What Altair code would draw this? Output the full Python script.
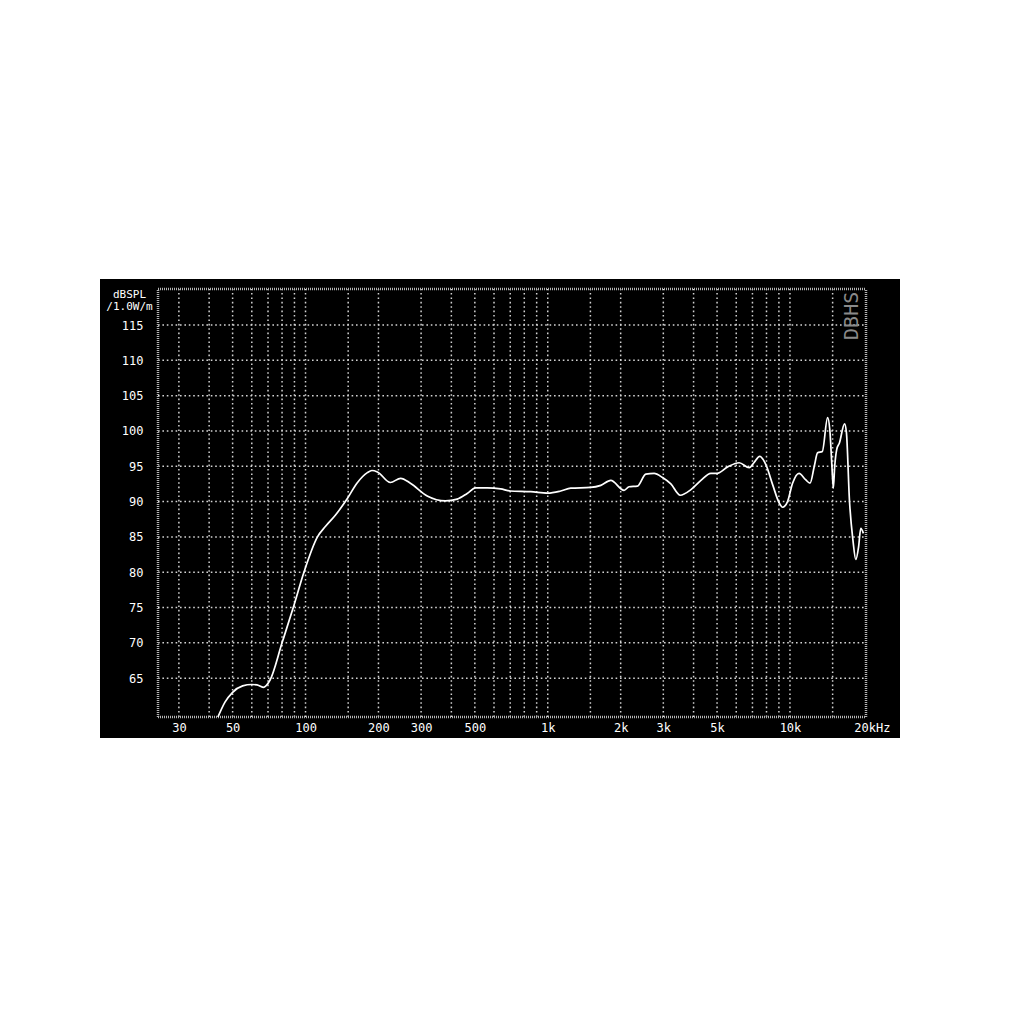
import altair as alt
import pandas as pd

# ---- data ----
freq = [43.5, 46.5, 50, 55, 60, 63, 66.9, 71.3, 80, 89, 98.5, 112, 121, 133, 148.6, 163, 180, 188,
        198, 224, 247, 271, 318, 378, 423, 465, 504, 563, 639, 700, 851, 1000, 1131, 1245, 1500,
        1656, 1820, 2065, 2167, 2346, 2540, 2749, 2978, 3223, 3523, 3900, 4289, 4716, 5000, 5525,
        6170, 6786, 7100, 7500, 7960, 8480, 9030, 9320, 9770, 10250, 10900, 11600, 12100, 12600,
        13000, 13600, 14300, 14600, 14900, 15100, 15300, 15600, 16000, 16800, 17100, 17600, 18200,
        18700, 19200, 19600, 20100]
spl = [59.5, 61.6, 63.0, 63.9, 64.1, 64.05, 63.7, 64.7, 70.0, 75.0, 80.0, 85.0, 86.5, 88.1, 90.4,
       92.6, 94.1, 94.4, 94.2, 92.7, 93.3, 92.6, 90.8, 90.1, 90.35, 91.15, 91.95, 91.95, 91.8, 91.5,
       91.4, 91.2, 91.5, 91.9, 92.0, 92.3, 93.0, 91.6, 92.1, 92.2, 93.9, 94.0, 93.4, 92.5, 90.9,
       91.7, 93.0, 94.0, 94.0, 94.9, 95.5, 94.8, 95.5, 96.4, 95.2, 92.4, 89.8, 89.2, 90.0, 92.6,
       94.0, 93.1, 92.6, 95.0, 96.9, 97.1, 101.9, 100.2, 95.0, 91.9, 95.0, 97.4, 98.3, 101.0, 99.8,
       90.2, 84.5, 81.8, 83.6, 86.2, 85.5]

grid_freqs = [30, 40, 50, 60, 70, 80, 90, 100, 150, 200, 300, 400, 500, 600, 700, 800, 900,
              1000, 1500, 2000, 3000, 4000, 5000, 6000, 7000, 8000, 9000, 10000, 15000]
grid_db = [65, 70, 75, 80, 85, 90, 95, 100, 105, 110, 115]

tick_freqs = [30, 50, 100, 200, 300, 500, 1000, 2000, 3000, 5000, 10000, 20000]
tick_labels = ["30", "50", "100", "200", "300", "500", "1k", "2k", "3k", "5k", "10k", "20kHz"]
db_ticks = [65, 70, 75, 80, 85, 90, 95, 100, 105, 110, 115]

x_domain = [24.6, 20600]
y_domain = [59.5, 120.1]

note_text = ["DBHS"]
note_freq = [17970]
note_db = [116.3]

FONT = "DejaVu Sans Mono"

# ---- tables ----
curve = pd.DataFrame({"f": freq, "db": spl})
vgrid = pd.DataFrame({"f": grid_freqs, "lo": y_domain[0], "hi": y_domain[1]})
hgrid = pd.DataFrame({"db": grid_db, "lo": x_domain[0], "hi": x_domain[1]})
vframe = pd.DataFrame({"f": x_domain, "lo": y_domain[0], "hi": y_domain[1]})
hframe = pd.DataFrame({"db": y_domain, "lo": x_domain[0], "hi": x_domain[1]})
notes = pd.DataFrame({"t": note_text, "f": note_freq, "db": note_db})

xs = alt.Scale(type="log", domain=x_domain, range=[58, 766])
ys = alt.Scale(domain=y_domain, range=[438, 10])

label_expr = "[" + ",".join("'%s'" % s for s in tick_labels) + "][indexof([" + \
    ",".join(str(v) for v in tick_freqs) + "], datum.value)]"

x_axis = alt.Axis(orient="bottom", offset=-21, values=tick_freqs, labelExpr=label_expr,
                  grid=False, ticks=False, tickSize=0, domain=False, title=None,
                  labelFont=FONT, labelFontSize=12, labelColor="white", labelPadding=5,
                  labelAlign="center", labelOverlap=False, labelFlush=False,
                  labelOffset={"condition": {"test": "datum.value == 20000", "value": 9}, "value": 0})
y_axis = alt.Axis(orient="left", offset=-58, values=db_ticks, grid=False, ticks=False, tickSize=0,
                  domain=False, labelFont=FONT, labelFontSize=12, labelColor="white",
                  labelPadding=15, labelOverlap=False, labelFlush=False,
                  title=["dBSPL", "/1.0W/m"], titleAngle=0, titleAlign="center",
                  titleBaseline="top", titleX=-29, titleY=9, titleFont=FONT, titleFontSize=11,
                  titleFontWeight="normal", titleColor="white", titleLineHeight=12.6)

grid_style = dict(color="#d2d2d2", strokeWidth=1.5, strokeDash=[1.6, 2.8])

vg = alt.Chart(vgrid).mark_rule(**grid_style).encode(
    x=alt.X("f:Q", scale=xs, axis=x_axis),
    y=alt.Y("lo:Q", scale=ys, axis=y_axis),
    y2="hi:Q",
)
hg = alt.Chart(hgrid).mark_rule(**grid_style).encode(
    y=alt.Y("db:Q", scale=ys, axis=y_axis),
    x=alt.X("lo:Q", scale=xs, axis=x_axis),
    x2="hi:Q",
)
frame_style = dict(color="#b5b5b5", strokeWidth=2.5, strokeDash=[1, 1])
vf = alt.Chart(vframe).mark_rule(**frame_style).encode(
    x=alt.X("f:Q", scale=xs, axis=x_axis),
    y=alt.Y("lo:Q", scale=ys, axis=y_axis),
    y2="hi:Q",
)
hf = alt.Chart(hframe).mark_rule(**frame_style).encode(
    y=alt.Y("db:Q", scale=ys, axis=y_axis),
    x=alt.X("lo:Q", scale=xs, axis=x_axis),
    x2="hi:Q",
)
line = alt.Chart(curve).mark_line(color="white", strokeWidth=1.7, interpolate="monotone").encode(
    x=alt.X("f:Q", scale=xs, axis=x_axis),
    y=alt.Y("db:Q", scale=ys, axis=y_axis),
)
note = alt.Chart(notes).mark_text(angle=270, font=FONT, fontSize=20, color="#8a8a8a",
                                  align="center", baseline="middle").encode(
    x=alt.X("f:Q", scale=xs, axis=x_axis),
    y=alt.Y("db:Q", scale=ys, axis=y_axis),
    text="t:N",
)

chart = alt.layer(vg, hg, vf, hf, line, note).properties(
    width=800, height=459,
    padding={"left": 92, "top": 271, "right": 10, "bottom": 10},
    autosize="none",
    background="white",
).configure_view(fill="black", stroke=None)

chart.save("out.html", embed_options={"renderer": "svg", "actions": False})
